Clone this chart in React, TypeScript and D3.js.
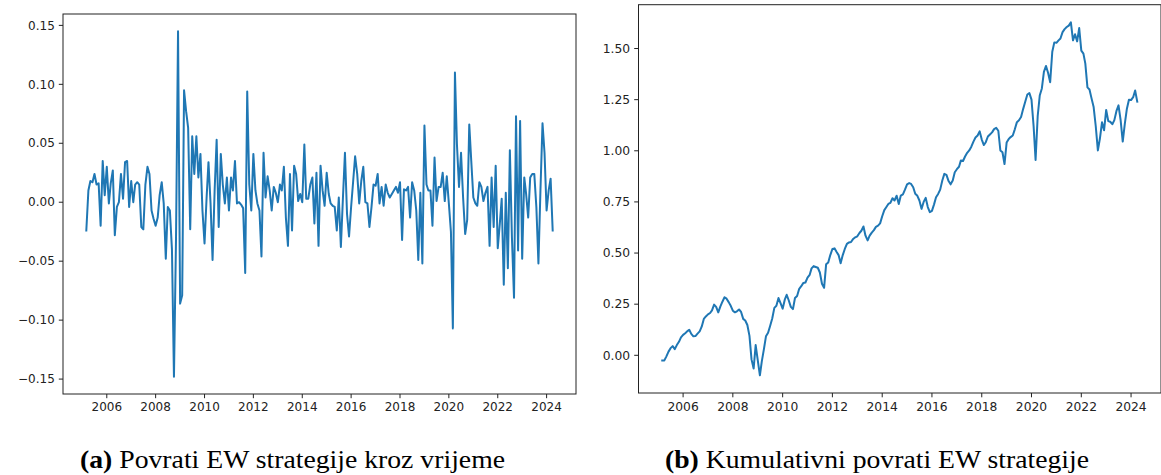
import React from 'react';
import * as d3 from 'd3';

// first month of the series and monthly values
const firstMonth = new Date(Date.UTC(2005, 2, 1));

const monthlyReturns = [
  -0.024, 0.010, 0.018, 0.017, 0.024, 0.015, 0.016, -0.020, 0.035, 0.006,
  0.030, -0.001, 0.016, 0.027, -0.028, -0.004, 0.000, 0.024, 0.003, 0.034,
  0.035, -0.004, 0.018, 0.000, 0.015, 0.017, 0.015, -0.021, -0.023, 0.015,
  0.030, 0.024, -0.007, -0.014, -0.020, -0.013, 0.006, 0.017, -0.001, -0.048,
  -0.004, -0.007, -0.040, -0.148, -0.030, 0.145, -0.086, -0.079, 0.095, 0.077,
  0.063, -0.023, 0.056, 0.024, 0.056, 0.021, 0.041, -0.007, -0.035, 0.004,
  0.034, -0.001, -0.049, 0.010, 0.053, -0.021, 0.041, 0.015, -0.001, 0.021,
  -0.007, 0.021, 0.010, 0.035, -0.001, 0.000, -0.002, -0.005, -0.060, 0.094,
  0.015, -0.007, 0.041, 0.010, -0.001, -0.007, -0.046, 0.042, 0.004, 0.022,
  0.010, -0.007, 0.013, 0.008, 0.000, 0.015, 0.010, 0.030, -0.013, -0.037,
  0.024, -0.024, 0.031, 0.024, 0.001, 0.007, 0.000, 0.049, 0.003, 0.003,
  0.015, 0.021, -0.018, 0.025, -0.037, 0.031, 0.010, -0.003, 0.025, 0.007,
  -0.001, -0.003, -0.004, -0.024, 0.004, -0.038, 0.004, 0.042, -0.010, -0.029,
  -0.004, 0.018, 0.039, 0.024, -0.001, 0.018, 0.030, 0.000, -0.001, -0.021,
  -0.004, 0.015, 0.014, 0.024, -0.001, 0.013, -0.003, 0.015, 0.008, 0.004,
  0.007, 0.010, 0.013, 0.008, 0.017, -0.032, 0.011, 0.010, 0.013, -0.013,
  0.017, 0.010, -0.007, -0.049, 0.008, -0.052, 0.065, 0.015, 0.010, 0.010,
  -0.020, 0.038, 0.001, 0.013, 0.013, 0.025, 0.001, 0.022, -0.001, -0.025,
  -0.107, 0.110, 0.049, 0.013, 0.042, 0.004, -0.027, -0.015, 0.066, 0.035,
  0.004, -0.001, -0.003, 0.017, 0.013, 0.001, 0.008, 0.013, -0.037, 0.021,
  -0.021, 0.031, -0.039, -0.018, 0.003, -0.070, 0.008, -0.056, 0.044, -0.030,
  -0.081, 0.073, -0.041, 0.069, -0.048, 0.021, 0.007, -0.013, 0.021, 0.024,
  0.024, -0.004, -0.052, 0.010, 0.067, 0.042, -0.007, 0.010, 0.020, -0.024,
];

const cumulativeReturns = [
  -0.025, -0.025, -0.005, 0.018, 0.035, 0.045, 0.030, 0.050, 0.066, 0.088,
  0.100, 0.108, 0.117, 0.125, 0.105, 0.093, 0.094, 0.106, 0.117, 0.140,
  0.178, 0.190, 0.200, 0.207, 0.220, 0.248, 0.237, 0.210, 0.238, 0.262,
  0.284, 0.277, 0.260, 0.242, 0.218, 0.210, 0.215, 0.224, 0.212, 0.178,
  0.170, 0.148, 0.095, -0.020, -0.065, 0.050, -0.025, -0.098, -0.030, 0.030,
  0.093, 0.110, 0.143, 0.180, 0.232, 0.242, 0.280, 0.255, 0.228, 0.272,
  0.296, 0.268, 0.237, 0.226, 0.280, 0.290, 0.325, 0.338, 0.354, 0.356,
  0.380, 0.393, 0.425, 0.436, 0.432, 0.428, 0.405, 0.350, 0.330, 0.445,
  0.454, 0.490, 0.520, 0.523, 0.506, 0.490, 0.450, 0.490, 0.520, 0.545,
  0.552, 0.554, 0.569, 0.577, 0.582, 0.598, 0.609, 0.630, 0.585, 0.562,
  0.585, 0.600, 0.612, 0.628, 0.634, 0.645, 0.680, 0.710, 0.724, 0.740,
  0.745, 0.768, 0.757, 0.780, 0.740, 0.781, 0.787, 0.810, 0.836, 0.842,
  0.838, 0.822, 0.790, 0.780, 0.757, 0.716, 0.750, 0.770, 0.725, 0.700,
  0.706, 0.738, 0.773, 0.789, 0.810, 0.855, 0.887, 0.882, 0.852, 0.836,
  0.855, 0.895, 0.910, 0.922, 0.953, 0.950, 0.972, 0.990, 1.002, 1.020,
  1.045, 1.065, 1.075, 1.095, 1.055, 1.028, 1.042, 1.070, 1.080, 1.090,
  1.106, 1.112, 1.098, 1.002, 0.993, 0.935, 1.040, 1.058, 1.067, 1.075,
  1.105, 1.140, 1.149, 1.165, 1.205, 1.240, 1.275, 1.282, 1.250, 1.120,
  0.955, 1.170, 1.270, 1.305, 1.386, 1.415, 1.380, 1.335, 1.484, 1.530,
  1.528, 1.540, 1.549, 1.580, 1.595, 1.605, 1.612, 1.628, 1.540, 1.570,
  1.535, 1.600, 1.490, 1.475, 1.426, 1.310, 1.300, 1.255, 1.214, 1.120,
  1.002, 1.060, 1.140, 1.100, 1.200, 1.145, 1.142, 1.130, 1.150, 1.195,
  1.222, 1.150, 1.045, 1.130, 1.206, 1.250, 1.248, 1.262, 1.295, 1.240,
];

const xTickYears = [2006, 2008, 2010, 2012, 2014, 2016, 2018, 2020, 2022, 2024];
const yTicksReturns = [-0.15, -0.1, -0.05, 0, 0.05, 0.1, 0.15];
const yTicksCumulative = [0, 0.25, 0.5, 0.75, 1, 1.25, 1.5];

const captionLabelA = '(a)';
const captionTextA = 'Povrati EW strategije kroz vrijeme';
const captionLabelB = '(b)';
const captionTextB = 'Kumulativni povrati EW strategije';

const months = monthlyReturns.map((_, i) => d3.utcMonth.offset(firstMonth, i));

const LINE = '#1f77b4';
const TICK_FONT = 'DejaVu Sans, sans-serif';

// matplotlib style: data extent padded 5% on both sides
function padded(ext) {
  const pad = (ext[1] - ext[0]) * 0.05;
  return [ext[0] - pad, ext[1] + pad];
}

function Panel({ values, box, yTicks, fontSize }) {
  const [t0, t1] = d3.extent(months).map(d => +d);
  const x = d3.scaleUtc()
    .domain(padded([t0, t1]).map(t => new Date(t)))
    .range([box.left, box.right]);
  const y = d3.scaleLinear()
    .domain(padded(d3.extent(values)))
    .range([box.bottom, box.top]);

  const line = d3.line()
    .x((d, i) => x(months[i]))
    .y(d => y(d));

  const fmt = d3.format('.2f');
  const tick = fontSize * 0.35;

  return (
    <g>
      <path d={line(values)} fill="none" stroke={LINE} strokeWidth={2}
        strokeLinejoin="round" strokeLinecap="square" />
      <rect x={box.left} y={box.top} width={box.right - box.left} height={box.bottom - box.top}
        fill="none" stroke="#222" strokeWidth={1} />
      {yTicks.map(v => (
        <g key={v}>
          <line x1={box.left - tick} x2={box.left} y1={y(v)} y2={y(v)} stroke="#222" strokeWidth={1} />
          <text x={box.left - tick - 4} y={y(v)} dy="0.35em" textAnchor="end"
            fontFamily={TICK_FONT} fontSize={fontSize} fill="#222">{fmt(v)}</text>
        </g>
      ))}
      {xTickYears.map(yr => {
        const px = x(new Date(Date.UTC(yr, 0, 1)));
        return (
          <g key={yr}>
            <line x1={px} x2={px} y1={box.bottom} y2={box.bottom + tick} stroke="#222" strokeWidth={1} />
            <text x={px} y={box.bottom + tick + 4} dy="0.76em" textAnchor="middle"
              fontFamily={TICK_FONT} fontSize={fontSize} fill="#222">{yr}</text>
          </g>
        );
      })}
    </g>
  );
}

function Caption({ cx, label, text, width }) {
  return (
    <text x={cx - width / 2} y={468} fontFamily="Liberation Serif, serif" fontSize={25}
      textLength={width} lengthAdjust="spacingAndGlyphs" fill="#000">
      <tspan fontWeight="bold">{label}</tspan> {text}
    </text>
  );
}

export default function App() {
  return (
    <svg width={1161} height={475} style={{ position: 'absolute', left: 0, top: 0, background: '#fff' }}>
      <rect width={1161} height={475} fill="#fff" />
      <Panel values={monthlyReturns} yTicks={yTicksReturns} fontSize={12}
        box={{ left: 63, right: 576, top: 14, bottom: 394 }} />
      <Panel values={cumulativeReturns} yTicks={yTicksCumulative} fontSize={12.3}
        box={{ left: 638.5, right: 1161, top: 4.7, bottom: 393 }} />
      <Caption cx={292.5} label={captionLabelA} text={captionTextA} width={425} />
      <Caption cx={877} label={captionLabelB} text={captionTextB} width={424} />
    </svg>
  );
}
